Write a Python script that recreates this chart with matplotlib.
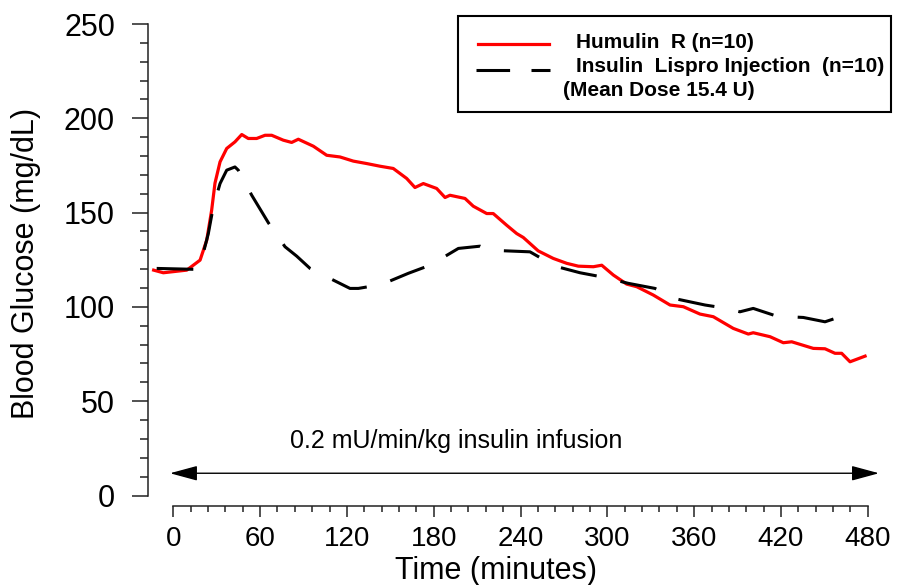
import matplotlib
matplotlib.use('Agg')
import matplotlib.pyplot as plt
from matplotlib.lines import Line2D
from matplotlib.patches import FancyArrowPatch, ArrowStyle, Rectangle
from matplotlib.ticker import MultipleLocator

plt.rcParams['font.family'] = ['Liberation Sans', 'DejaVu Sans']

# Humulin R (n=10), minutes vs mg/dL
time_humulin = [-13.6, -6.9, 9.3, 18.5, 23.1, 26.5, 28.8, 32.3, 36.9, 42.6, 47.3, 51.8,
                57.6, 63.4, 68.0, 76.0, 81.8, 86.4, 96.8, 106.0, 115.2, 124.4, 133.7,
                142.8, 152.0, 161.3, 167.0, 172.8, 182.0, 187.8, 191.2, 201.6, 207.3,
                216.6, 221.1, 230.4, 237.3, 241.9, 252.2, 262.6, 271.9, 279.9, 290.3,
                296.1, 304.1, 313.3, 320.3, 331.7, 343.3, 352.5, 364.0, 373.2, 387.0,
                397.4, 400.8, 412.4, 421.6, 427.4, 442.3, 450.4, 457.3, 461.9, 467.7, 478.1]
bg_humulin = [119.5, 118.1, 119.5, 124.8, 135.4, 151.3, 165.6, 176.9, 184.0, 187.5, 191.4, 189.3,
              189.3, 191.0, 191.0, 188.4, 187.2, 188.9, 185.2, 180.4, 179.5, 177.3, 176.0,
              174.6, 173.4, 168.1, 163.3, 165.4, 162.8, 158.0, 159.2, 157.5, 153.4,
              149.5, 149.5, 143.3, 138.9, 136.8, 129.7, 125.7, 123.1, 121.6, 121.3,
              122.1, 116.9, 112.1, 110.7, 106.3, 101.0, 100.1, 96.2, 94.8, 88.6,
              85.6, 86.3, 84.2, 81.0, 81.5, 78.0, 77.8, 75.4, 75.4, 70.9, 73.9]

# Insulin Lispro Injection (n=10)
time_lispro = [-11.5, 16.2, 19.6, 24.2, 27.6, 32.3, 36.9, 42.6, 44.9, 54.2, 65.7, 77.2,
               85.3, 94.5, 110.6, 122.1, 127.9, 144.0, 162.4, 177.4, 184.3, 197.0, 212.0,
               217.7, 230.4, 246.5, 263.8, 281.1, 298.3, 314.4, 332.9, 349.0, 367.5,
               382.5, 391.6, 400.8, 417.0, 435.4, 450.4, 463.0, 469.2]
bg_lispro = [120.4, 119.9, 125.2, 138.9, 153.0, 165.4, 172.5, 174.2, 172.5, 159.2, 144.6, 131.9,
             126.9, 120.4, 114.2, 109.8, 109.8, 111.9, 117.8, 122.1, 125.2, 131.0, 132.2,
             130.1, 129.7, 129.2, 121.6, 118.1, 115.6, 112.5, 109.8, 104.0, 101.0,
             99.2, 97.4, 99.2, 95.1, 94.4, 92.1, 95.3, 95.3]

infusion_start, infusion_end, infusion_level = -2.3, 487.7, 11.8
x_ticks = [0, 60, 120, 180, 240, 300, 360, 420, 480]
x_minor = list(range(0, 481, 12))
y_ticks = [0, 50, 100, 150, 200, 250]

W, H = 897, 585
fig = plt.figure(figsize=(W / 100, H / 100), dpi=100)
ax = fig.add_axes([147.7 / W, 89.5 / H, 734.6 / W, 471.5 / H])

red_style = dict(color='#ff0000', lw=2.3, solid_joinstyle='round')
black_style = dict(color='black', lw=2.2, dashes=(12, 8))

ax.plot(time_humulin, bg_humulin, **red_style)
ax.plot(time_lispro, bg_lispro, **black_style)

ax.set_xlim(-17.7, 490)
ax.set_ylim(0, 250)

for s in ['top', 'right']:
    ax.spines[s].set_visible(False)
ax.spines['bottom'].set_position(('outward', 7.6))
ax.spines['bottom'].set_bounds(0, 480)
ax.spines['left'].set_bounds(0, 250)
for s in ['bottom', 'left']:
    ax.spines[s].set_linewidth(1.1)
    ax.spines[s].set_color('#222222')

ax.set_xticks(x_ticks)
ax.set_xticks(x_minor, minor=True)
ax.set_yticks(y_ticks)
ax.yaxis.set_minor_locator(MultipleLocator(10))
ax.tick_params(axis='y', which='major', direction='out', length=11.5, width=1.1,
               pad=12, labelsize=22, color='#222222')
ax.tick_params(axis='y', which='minor', direction='out', length=6, width=1.1, color='#222222')
ax.tick_params(axis='x', which='major', direction='out', length=8, width=1.1,
               pad=6, labelsize=20, color='#222222')
ax.tick_params(axis='x', which='minor', direction='out', length=4.3, width=1.1, color='#222222')

fig.text(26 / W, 1 - 263 / H, 'Blood Glucose (mg/dL)', rotation=90, ha='center',
         va='center', fontsize=22)
fig.text(496 / W, 1 - 571 / H, 'Time (minutes)', ha='center', va='center', fontsize=22)

# infusion arrow
arrow = FancyArrowPatch((infusion_start, infusion_level), (infusion_end, infusion_level),
                        arrowstyle=ArrowStyle('<|-|>', head_length=17, head_width=4.6),
                        mutation_scale=1, lw=1.0, color='black', shrinkA=0, shrinkB=0,
                        clip_on=False)
ax.add_patch(arrow)
ax.text(195.6, 28.9, '0.2 mU/min/kg insulin infusion', ha='center', va='center', fontsize=18)

# legend box
fig.patches.append(Rectangle((458 / W, 1 - 112 / H), 433 / W, 96 / H, transform=fig.transFigure,
                             fill=False, edgecolor='black', lw=1.5))
fig.lines.append(Line2D([478 / W, 549 / W], [1 - 44 / H, 1 - 44 / H],
                        transform=fig.transFigure, **red_style))
fig.lines.append(Line2D([476 / W, 550 / W], [1 - 70 / H, 1 - 70 / H],
                        transform=fig.transFigure, color='black', lw=2.2, dashes=(11, 7)))
fig.text(576 / W, 1 - 42 / H, 'Humulin  R (n=10)', fontsize=15, fontweight='bold',
         va='center', ha='left')
fig.text(576 / W, 1 - 66 / H, 'Insulin  Lispro Injection  (n=10)', fontsize=15,
         fontweight='bold', va='center', ha='left')
fig.text(563 / W, 1 - 90 / H, '(Mean Dose 15.4 U)', fontsize=15, fontweight='bold',
         va='center', ha='left')

fig.savefig('out.png', dpi=100)
